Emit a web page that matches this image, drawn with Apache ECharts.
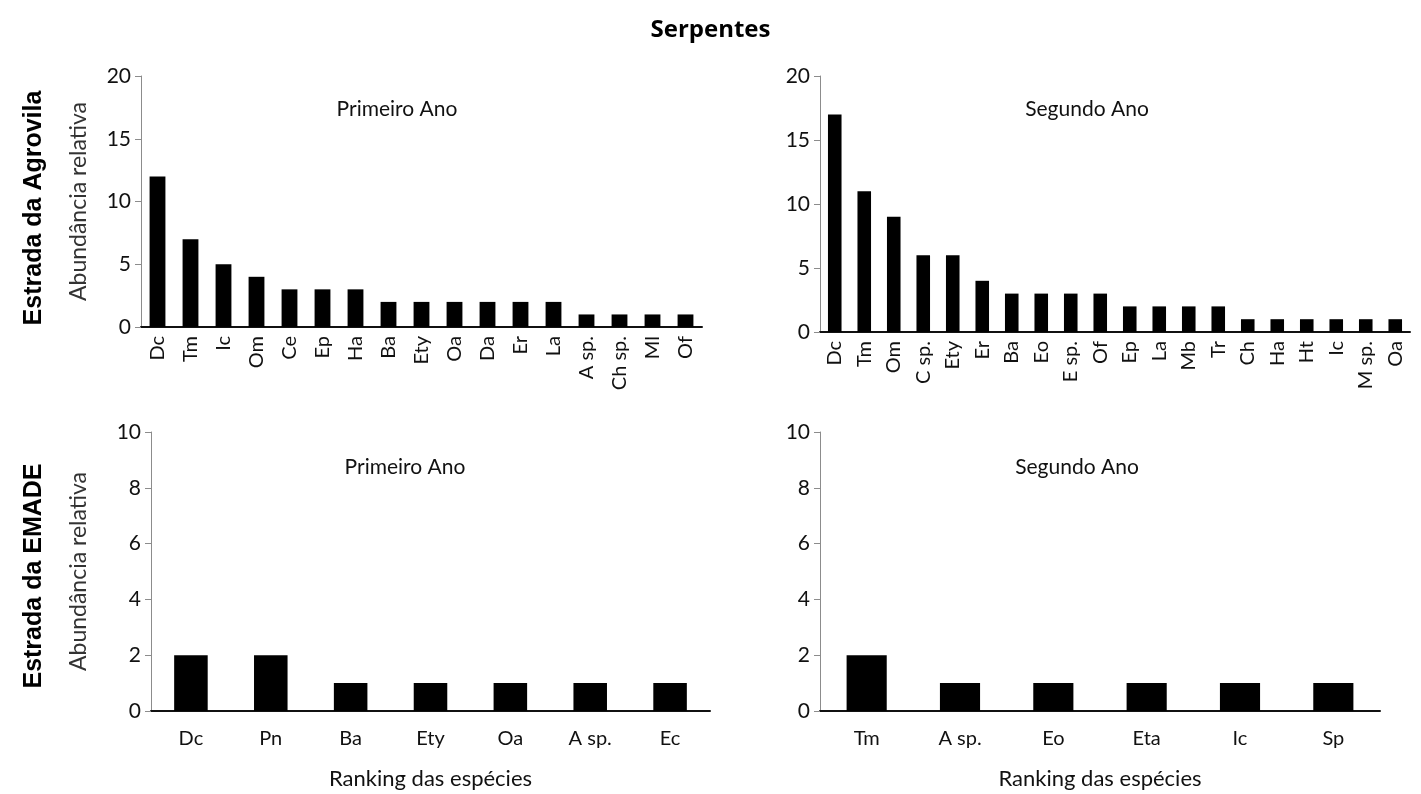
<!DOCTYPE html>
<html>
<head>
<meta charset="utf-8">
<script src="https://cdn.jsdelivr.net/npm/echarts@6/dist/echarts.min.js"></script>
<style>
html,body{margin:0;padding:0;background:#fff;}
#main{width:1421px;height:794px;}
</style>
</head>
<body>
<div id="main"></div>
<script>
// dados - Agrovila, primeiro ano
var agro1Cats = ['Dc','Tm','Ic','Om','Ce','Ep','Ha','Ba','Ety','Oa','Da','Er','La','A sp.','Ch sp.','Ml','Of'];
var agro1Vals = [12,7,5,4,3,3,3,2,2,2,2,2,2,1,1,1,1];
// Agrovila, segundo ano
var agro2Cats = ['Dc','Tm','Om','C sp.','Ety','Er','Ba','Eo','E sp.','Of','Ep','La','Mb','Tr','Ch','Ha','Ht','Ic','M sp.','Oa'];
var agro2Vals = [17,11,9,6,6,4,3,3,3,3,2,2,2,2,1,1,1,1,1,1];
// EMADE, primeiro ano
var emade1Cats = ['Dc','Pn','Ba','Ety','Oa','A sp.','Ec'];
var emade1Vals = [2,2,1,1,1,1,1];
// EMADE, segundo ano
var emade2Cats = ['Tm','A sp.','Eo','Eta','Ic','Sp'];
var emade2Vals = [2,1,1,1,1,1];

var font = 'Lato';

var myChart = echarts.init(document.getElementById('main'));

function yAx(idx, max, step, name, gap) {
	return {
		type: 'value', gridIndex: idx, min: 0, max: max, interval: step,
		name: name, nameLocation: 'middle', nameGap: gap,
		nameTextStyle: {fontFamily: font, fontSize: 23, color: '#333'},
		axisLine: {show: true, lineStyle: {color: '#8c8c8c', width: 1}},
		axisTick: {show: true, length: 6, lineStyle: {color: '#8c8c8c'}},
		axisLabel: {fontFamily: font, fontSize: 21, color: '#111', margin: 10},
		splitLine: {show: false}
	};
}

function xAx(idx, cats, rot, name) {
	return {
		type: 'category', gridIndex: idx, data: cats,
		name: name || '', nameLocation: 'middle', nameGap: 57,
		nameTextStyle: {fontFamily: font, fontSize: 22, color: '#111'},
		axisLine: {lineStyle: {color: '#111', width: 2}},
		axisTick: {show: false},
		axisLabel: {interval: 0, rotate: rot, fontFamily: font, fontSize: rot ? 20 : 20, color: '#111', margin: rot ? 9 : 18}
	};
}

function bars(idx, vals, w) {
	return {
		type: 'bar', xAxisIndex: idx, yAxisIndex: idx, data: vals,
		barWidth: w, itemStyle: {color: '#000'}, silent: true
	};
}

var subStyle = {fontFamily: font, fontWeight: 'normal', fontSize: 21, color: '#111'};

var option = {
	animation: false,
	backgroundColor: '#fff',
	title: [
		{text: 'Serpentes', left: 'center', top: 13, textStyle: {fontFamily: 'Open Sans', fontWeight: 'bold', fontSize: 24, color: '#000'}},
		{text: 'Primeiro Ano', left: 392, top: 94, textAlign: 'center', textStyle: subStyle},
		{text: 'Segundo Ano', left: 1082, top: 94, textAlign: 'center', textStyle: subStyle},
		{text: 'Primeiro Ano', left: 400, top: 452, textAlign: 'center', textStyle: subStyle},
		{text: 'Segundo Ano', left: 1072, top: 452, textAlign: 'center', textStyle: subStyle}
	],
	graphic: [
		{type: 'text', x: 34, y: 208, rotation: Math.PI / 2,
			style: {text: 'Estrada da Agrovila', fontFamily: 'Liberation Sans', fontWeight: 'bold', fontSize: 25, fill: '#000', align: 'center', verticalAlign: 'middle'}},
		{type: 'text', x: 34, y: 576, rotation: Math.PI / 2,
			style: {text: 'Estrada da EMADE', fontFamily: 'Liberation Sans', fontWeight: 'bold', fontSize: 25, fill: '#000', align: 'center', verticalAlign: 'middle'}}
	],
	grid: [
		{left: 141, top: 76, width: 561, height: 251},
		{left: 820, top: 76, width: 590, height: 256},
		{left: 151, top: 432, width: 559, height: 279},
		{left: 820, top: 432, width: 560, height: 279}
	],
	xAxis: [
		xAx(0, agro1Cats, 90),
		xAx(1, agro2Cats, 90),
		xAx(2, emade1Cats, 0, 'Ranking das espécies'),
		xAx(3, emade2Cats, 0, 'Ranking das espécies')
	],
	yAxis: [
		yAx(0, 20, 5, 'Abundância relativa', 51),
		yAx(1, 20, 5, '', 40),
		yAx(2, 10, 2, 'Abundância relativa', 61),
		yAx(3, 10, 2, '', 40)
	],
	series: [
		bars(0, agro1Vals, '48%'),
		bars(1, agro2Vals, '46%'),
		bars(2, emade1Vals, '42%'),
		bars(3, emade2Vals, '43%')
	]
};

myChart.setOption(option);
</script>
</body>
</html>
